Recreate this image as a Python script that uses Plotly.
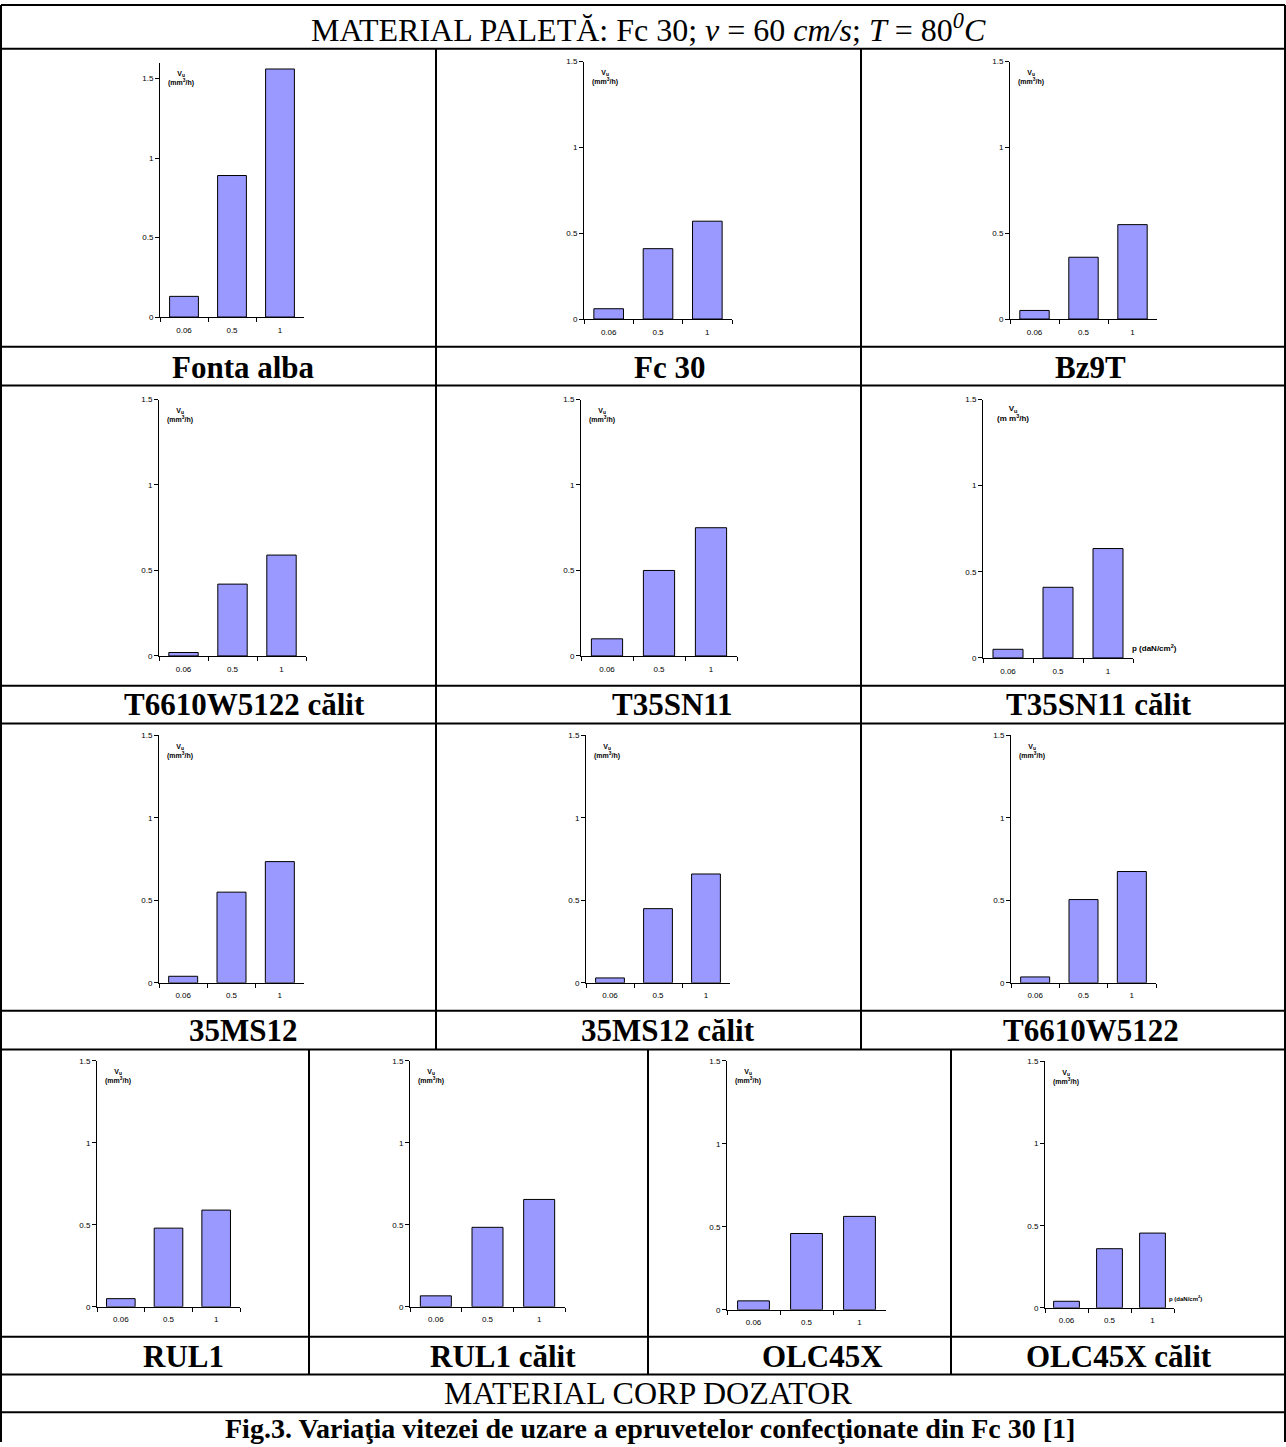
import plotly.graph_objects as go

W, H = 1286, 1447

# ---------------- data ----------------
categories = ["0.06", "0.5", "1"]
y_tickvals = [0, 0.5, 1, 1.5]
y_ticktext = ["0", "0.5", "1", "1.5"]

fonta_alba = [0.13, 0.89, 1.56]
fc_30 = [0.06, 0.41, 0.57]
bz9t = [0.05, 0.36, 0.55]
t6610w5122_calit = [0.02, 0.42, 0.59]
t35sn11 = [0.10, 0.50, 0.75]
t35sn11_calit = [0.05, 0.41, 0.635]
ms12_35 = [0.04, 0.55, 0.735]
ms12_35_calit = [0.03, 0.45, 0.66]
t6610w5122 = [0.036, 0.505, 0.675]
rul1 = [0.05, 0.48, 0.59]
rul1_calit = [0.067, 0.485, 0.655]
olc45x = [0.054, 0.46, 0.563]
olc45x_calit = [0.04, 0.36, 0.455]

panel_names = ["Fonta alba", "Fc 30", "Bz9T",
               "T6610W5122 călit", "T35SN11", "T35SN11 călit",
               "35MS12", "35MS12 călit", "T6610W5122",
               "RUL1", "RUL1 călit", "OLC45X", "OLC45X călit"]
panel_values = [fonta_alba, fc_30, bz9t,
                t6610w5122_calit, t35sn11, t35sn11_calit,
                ms12_35, ms12_35_calit, t6610w5122,
                rul1, rul1_calit, olc45x, olc45x_calit]
panel_ymax = [1.6, 1.5, 1.5, 1.5, 1.5, 1.5, 1.5, 1.5, 1.5, 1.5, 1.5, 1.5, 1.5]

title_text = "MATERIAL PALETĂ: Fc 30; <i>v</i> = 60 <i>cm/s</i>; <i>T</i> = 80<sup><i>0</i></sup><i>C</i>"
bottom_text = "MATERIAL CORP DOZATOR"
caption_text = "<b>Fig.3. Variaţia vitezei de uzare a epruvetelor confecţionate din Fc 30 [1]</b>"

# ---------------- layout geometry (pixels) ----------------
# (y-axis x, x-axis end, y of zero line, pixels per unit)
geom = [
    (160, 304, 315, 160.0),
    (584, 732, 317, 172.7),
    (1010, 1157, 317, 172.7),
    (159, 306, 656, 172.0),
    (581, 737, 656, 172.0),
    (983, 1133, 658, 173.3),
    (159, 304, 985, 166.0),
    (586, 730, 985, 166.0),
    (1011, 1156, 985, 166.0),
    (97, 240, 1311, 165.0),
    (410, 565, 1311, 165.0),
    (727, 886, 1314, 167.0),
    (1045, 1174, 1312, 165.3),
]
label_pos = [
    (243, 366), (669, 366), (1090, 366),
    (245, 705), (673, 705), (1099, 705),
    (243, 1033), (668, 1033), (1091, 1033),
    (183, 1361), (503, 1361), (823, 1361), (1119, 1361),
]


def px(x):
    return x / W


def py(y):
    return 1 - y / H


fig = go.Figure()
layout = dict(
    width=W, height=H,
    margin=dict(l=0, r=0, t=0, b=0),
    paper_bgcolor="white", plot_bgcolor="rgba(0,0,0,0)",
    showlegend=False,
    bargap=0.4,
)
annotations = []
tick_font = dict(family="Liberation Sans, Arial", size=8, color="black")


def note(x, y, text, size, family="Liberation Sans, Arial", xanchor="center"):
    annotations.append(dict(
        x=px(x), y=py(y), xref="paper", yref="paper", xanchor=xanchor, yanchor="middle",
        text=text, showarrow=False, font=dict(family=family, size=size, color="black"),
    ))


for i, (name, vals, ymax, g) in enumerate(zip(panel_names, panel_values, panel_ymax, geom)):
    n = i + 1
    sx = "" if n == 1 else str(n)
    x0, x1, yz, scale = g
    ytop = yz - ymax * scale
    fig.add_trace(go.Bar(
        x=categories, y=vals,
        xaxis="x" + sx, yaxis="y" + sx,
        marker=dict(color="#9999FF", line=dict(color="black", width=1)),
        hoverinfo="x+y",
    ))
    layout["xaxis" + sx] = dict(
        domain=[px(x0), px(x1)], anchor="y" + sx, type="category",
        range=[-0.5, 2.5], showline=True, linecolor="black", linewidth=1,
        ticks="outside", ticklen=4, tickcolor="black", tickson="boundaries",
        ticklabelstandoff=5,
        showgrid=False, zeroline=False, tickfont=tick_font, fixedrange=True,
    )
    layout["yaxis" + sx] = dict(
        domain=[py(yz), py(ytop)], anchor="x" + sx,
        range=[0, ymax], showline=True, linecolor="black", linewidth=1,
        ticks="outside", ticklen=4, tickcolor="black",
        tickvals=y_tickvals, ticktext=y_ticktext,
        showgrid=False, zeroline=False, tickfont=tick_font, fixedrange=True,
    )
    # y-axis title
    if name == "T35SN11 călit":
        note(x0 + 30, ytop + 14, "<b>V<sub>u</sub><br>(m m<sup>3</sup>/h)</b>", 8)
        note(x1 - 3, yz - 10, "<b>p (daN/cm<sup>2</sup>)</b>", 8, xanchor="left")
    else:
        note(x0 + 21, ytop + 16, "<b>V<sub>u</sub><br>(mm<sup>3</sup>/h)</b>", 7)
    if name == "OLC45X călit":
        note(x1 - 7, yz - 10, "<b>p (daN/cm<sup>2</sup>)</b>", 6, xanchor="left")
    # panel label
    lx, ly = label_pos[i]
    note(lx, ly, "<b>" + name + "</b>", 31, family="Liberation Serif, Times New Roman")

serif = "Liberation Serif, Times New Roman"
note(649, 24, title_text, 32, family=serif)
note(648, 1398, bottom_text, 32, family=serif)
note(650, 1433, caption_text, 28, family=serif)

# ---------------- table lines ----------------
shapes = []


def hline(y, xa=1, xb=1285):
    shapes.append(dict(type="line", xref="paper", yref="paper", x0=px(xa), x1=px(xb),
                       y0=py(y), y1=py(y), line=dict(color="black", width=2)))


def vline(x, ya, yb):
    shapes.append(dict(type="line", xref="paper", yref="paper", x0=px(x), x1=px(x),
                       y0=py(ya), y1=py(yb), line=dict(color="black", width=2)))


for yy in [1, 45, 345, 384, 686, 724, 1013, 1052, 1341, 1379, 1417]:
    hline(yy)
vline(1, 1, 1447)
vline(1285, 1, 1447)
vline(436, 45, 1052)
vline(861, 45, 1052)
vline(309, 1052, 1379)
vline(648, 1052, 1379)
vline(951, 1052, 1379)

layout["annotations"] = annotations
layout["shapes"] = shapes
fig.update_layout(**layout)

fig.write_html(
    "out.html",
    config={"displayModeBar": False},
    post_script="document.body.style.margin='0px';document.body.style.overflow='hidden';",
)
